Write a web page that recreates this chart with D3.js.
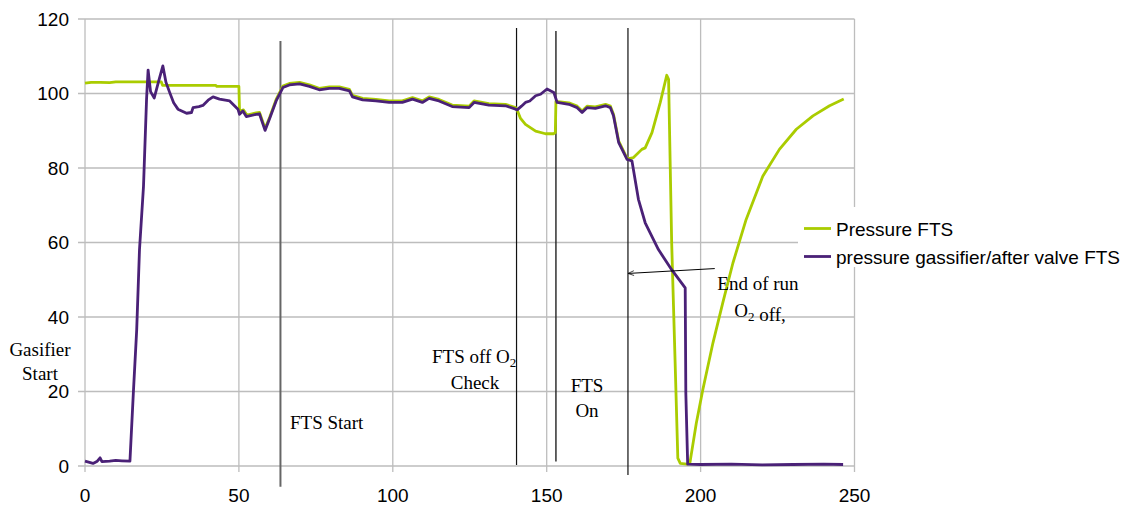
<!DOCTYPE html>
<html>
<head>
<meta charset="utf-8">
<script src="https://cdn.jsdelivr.net/npm/d3@7/dist/d3.min.js"></script>
<style>
  body { margin: 0; background: #fff; }
  svg { display: block; }
  .tick-label { font-family: "Liberation Sans", Arial, sans-serif; font-size: 19px; fill: #000; }
  .note { font-family: "Liberation Serif", "Times New Roman", serif; font-size: 19px; fill: #000; }
</style>
</head>
<body>
<div id="chart"></div>
<script>
// time axis ticks and value ticks
var xTicks = [0, 50, 100, 150, 200, 250];
var yTicks = [0, 20, 40, 60, 80, 100, 120];

// Pressure FTS (green)
var ftsTime = [0, 2, 5, 8, 10, 15, 20, 24.8, 25.2, 35, 42.5, 42.8, 50.0, 50.2, 51.5, 52.6, 55.6, 56.7, 58.5, 60.0,
  62.1, 64.3, 66.4, 69.7, 72.9, 76.1, 79.4, 82.6, 85.9, 86.9, 90.2, 94.5, 98.8, 103.1, 106.4, 109.6, 111.8, 115.0,
  119.3, 124.8, 126.4, 131.2, 136.6, 139.9, 140.4, 141.5, 143.1, 146.4, 149.6, 152.3, 152.8, 153.0, 157.2, 159.9,
  161.5, 163.1, 165.8, 169.1, 170.7, 171.7, 173.4, 176.1, 177.1, 178.2, 180.9, 182.0, 184.2, 186.9, 189.0, 189.6,
  190.6, 191.7, 192.6, 193.4, 195.5, 196.5, 198.6, 200.7, 204.0, 207.2, 210.5, 214.8, 220.2, 225.6, 231.1, 236.5,
  241.9, 246.5];
var ftsPressure = [102.8, 103.0, 103.0, 102.9, 103.1, 103.1, 103.1, 103.1, 102.2, 102.2, 102.2, 101.9, 101.9, 95.3, 95.6, 94.2, 94.8, 94.9, 90.6, 93.6,
  98.4, 102.0, 102.7, 103.0, 102.3, 101.4, 101.8, 101.8, 101.1, 99.5, 98.7, 98.4, 98.0, 98.0, 98.9, 98.0, 99.1, 98.4,
  96.9, 96.6, 98.0, 97.3, 97.1, 96.2, 95.6, 93.3, 91.7, 89.9, 89.2, 89.2, 89.5, 97.9, 97.5, 96.6,
  95.3, 96.6, 96.4, 97.1, 96.6, 94.4, 87.2, 82.6, 82.6, 82.8, 85.0, 85.4, 89.5, 97.6, 104.9, 103.8,
  60.0, 28.5, 2.1, 0.7, 0.5, 0.7, 11.5, 20.4, 33.0, 43.8, 54.5, 66.2, 77.8, 85.0, 90.4, 94.0,
  96.7, 98.5];

// pressure gassifier/after valve FTS (purple)
var gasTime = [0, 2.6, 4.0, 4.9, 5.5, 8, 10, 12, 14.6, 15.7, 16.8, 17.7, 19.0, 20.0, 20.5, 21.3, 22.5, 24.0, 25.3, 26.3,
  27.5, 28.8, 30.2, 33.0, 34.6, 35.1, 37.0, 38.3, 40.0, 41.6, 43.7, 47.0, 49.7, 50.2, 51.3, 52.4, 55.6, 56.7, 58.5,
  59.9, 62.1, 64.3, 66.4, 69.7, 72.9, 76.1, 79.4, 82.6, 85.9, 86.9, 90.2, 94.5, 98.8, 103.1, 106.4, 109.6, 111.8,
  115.0, 119.3, 124.8, 126.4, 131.2, 136.6, 139.9, 140.4, 141.8, 143.1, 144.5, 146.4, 148.0, 150.1, 152.3, 153.4,
  157.2, 159.9, 161.5, 163.1, 165.8, 169.1, 170.7, 171.7, 173.4, 176.1, 177.7, 179.8, 182.0, 186.3, 190.6, 195.0,
  195.2, 195.8, 200, 210, 220, 230, 240, 246.3];
var gasPressure = [1.3, 0.7, 1.3, 2.2, 1.2, 1.3, 1.5, 1.4, 1.3, 19.5, 36.6, 58, 75, 98.5, 106.3, 100.5, 98.8, 103.5, 107.4, 103,
  100.3, 97.5, 95.8, 94.7, 94.9, 96.2, 96.5, 96.8, 98.2, 99.1, 98.5, 98.0, 95.8, 94.4, 95.3, 93.8, 94.4, 94.5, 90.1,
  93.1, 98.0, 101.6, 102.3, 102.6, 101.9, 101.0, 101.4, 101.4, 100.7, 99.1, 98.3, 98.0, 97.6, 97.6, 98.5, 97.6, 98.7,
  98.0, 96.5, 96.2, 97.6, 96.9, 96.7, 95.8, 95.6, 96.6, 97.6, 98.0, 99.4, 99.8, 101.2, 100.3, 97.6,
  97.1, 96.2, 94.9, 96.2, 96.0, 96.7, 96.2, 94.0, 86.8, 82.3, 81.9, 71.6, 65.3, 58.1, 52.7, 47.8,
  19.6, 0.5, 0.4, 0.5, 0.3, 0.4, 0.5, 0.4];

// event marker lines (time, bottom, top)
var markerTime = [63.5, 140.2, 153.0, 176.4];
var markerBottom = [-5.6, 0.3, 1.2, -2.4];
var markerTop = [114.1, 117.6, 116.8, 117.6];

var seriesNames = ["Pressure FTS", "pressure gassifier/after valve FTS"];
var seriesColors = ["#aacc00", "#4a2177"];

var margin = {top: 19, right: 273.5, bottom: 40, left: 85},
    width = 1128 - margin.left - margin.right,
    height = 506 - margin.top - margin.bottom;

var x = d3.scaleLinear().domain([0, 250]).range([0, width]);
var y = d3.scaleLinear().domain([0, 120]).range([height, 0]);

var svg = d3.select("#chart").append("svg")
    .attr("width", 1128)
    .attr("height", 506);

var g = svg.append("g")
    .attr("transform", "translate(" + margin.left + "," + margin.top + ")");

// grid lines
g.selectAll(".hgrid")
  .data(yTicks)
  .enter().append("line")
    .attr("x1", -7).attr("x2", width)
    .attr("y1", function(d) { return y(d); })
    .attr("y2", function(d) { return y(d); })
    .attr("stroke", "#bdbdbd").attr("stroke-width", 1.3);

g.selectAll(".vgrid")
  .data(xTicks)
  .enter().append("line")
    .attr("x1", function(d) { return x(d); })
    .attr("x2", function(d) { return x(d); })
    .attr("y1", 0).attr("y2", height + 6)
    .attr("stroke", "#bdbdbd").attr("stroke-width", 1.3);

// tick labels
g.selectAll(".ylab")
  .data(yTicks)
  .enter().append("text")
    .attr("class", "tick-label")
    .attr("x", -16)
    .attr("y", function(d) { return y(d); })
    .attr("dy", "0.36em")
    .attr("text-anchor", "end")
    .text(function(d) { return d; });

g.selectAll(".xlab")
  .data(xTicks)
  .enter().append("text")
    .attr("class", "tick-label")
    .attr("x", function(d) { return x(d); })
    .attr("y", height + 36)
    .attr("text-anchor", "middle")
    .text(function(d) { return d; });

// event marker lines
var markerColors = ["#666", "#111", "#222", "#111"];
var markerWidths = [2, 1.2, 1.4, 1.2];
g.selectAll(".marker")
  .data(markerTime)
  .enter().append("line")
    .attr("x1", function(d) { return x(d); })
    .attr("x2", function(d) { return x(d); })
    .attr("y1", function(d, i) { return y(markerBottom[i]); })
    .attr("y2", function(d, i) { return y(markerTop[i]); })
    .attr("stroke", function(d, i) { return markerColors[i]; })
    .attr("stroke-width", function(d, i) { return markerWidths[i]; });

// series lines
var line = d3.line()
    .x(function(d) { return x(d[0]); })
    .y(function(d) { return y(d[1]); });

var ftsData = d3.zip(ftsTime, ftsPressure);
var gasData = d3.zip(gasTime, gasPressure);

g.append("path")
    .datum(ftsData)
    .attr("d", line)
    .attr("fill", "none")
    .attr("stroke", seriesColors[0])
    .attr("stroke-width", 2.8)
    .attr("stroke-linejoin", "round");

g.append("path")
    .datum(gasData)
    .attr("d", line)
    .attr("fill", "none")
    .attr("stroke", seriesColors[1])
    .attr("stroke-width", 2.8)
    .attr("stroke-linejoin", "round");

// arrow for end of run
svg.append("defs").append("marker")
    .attr("id", "arrow")
    .attr("viewBox", "0 0 10 10")
    .attr("refX", 9).attr("refY", 5)
    .attr("markerWidth", 7).attr("markerHeight", 6)
    .attr("orient", "auto")
  .append("path")
    .attr("d", "M0,1 L10,5 L0,9")
    .attr("fill", "none")
    .attr("stroke", "#000")
    .attr("stroke-width", 1.2);

g.append("line")
    .attr("x1", x(204.6)).attr("y1", y(53.0))
    .attr("x2", x(176.6)).attr("y2", y(51.7))
    .attr("stroke", "#000")
    .attr("stroke-width", 1)
    .attr("marker-end", "url(#arrow)");

// legend (white box hides the grid behind it)
var legend = svg.append("g");
legend.append("rect")
    .attr("x", 798).attr("y", 207)
    .attr("width", 330).attr("height", 60)
    .attr("fill", "#fff");

seriesNames.forEach(function(name, i) {
  var ly = 228.5 + i * 28;
  legend.append("line")
      .attr("x1", 804).attr("x2", 831)
      .attr("y1", ly).attr("y2", ly)
      .attr("stroke", seriesColors[i])
      .attr("stroke-width", 2.8);
  legend.append("text")
      .attr("class", "tick-label")
      .attr("x", 836)
      .attr("y", ly + 7.5)
      .text(name);
});

// annotations
function note(lines) {
  lines.forEach(function(l) {
    var t = svg.append("text")
        .attr("class", "note")
        .attr("x", l.x)
        .attr("y", l.y)
        .attr("text-anchor", l.anchor || "middle");
    l.parts.forEach(function(p) {
      if (p.sub) {
        t.append("tspan").attr("font-size", "13px").attr("dy", 4).text(p.text);
        t.append("tspan").attr("dy", -4).text("");
      } else {
        t.append("tspan").text(p.text);
      }
    });
  });
}

note([
  {x: 40, y: 356, parts: [{text: "Gasifier"}]},
  {x: 40, y: 380, parts: [{text: "Start"}]},
  {x: 290, y: 429, anchor: "start", parts: [{text: "FTS Start"}]},
  {x: 432, y: 363, anchor: "start", parts: [{text: "FTS off O"}, {text: "2", sub: true}]},
  {x: 475, y: 389, parts: [{text: "Check"}]},
  {x: 587, y: 392, parts: [{text: "FTS"}]},
  {x: 587, y: 417, parts: [{text: "On"}]},
  {x: 758, y: 290, parts: [{text: "End of run"}]},
  {x: 760, y: 317, parts: [{text: "O"}, {text: "2", sub: true}, {text: " off,"}]}
]);
</script>
</body>
</html>
